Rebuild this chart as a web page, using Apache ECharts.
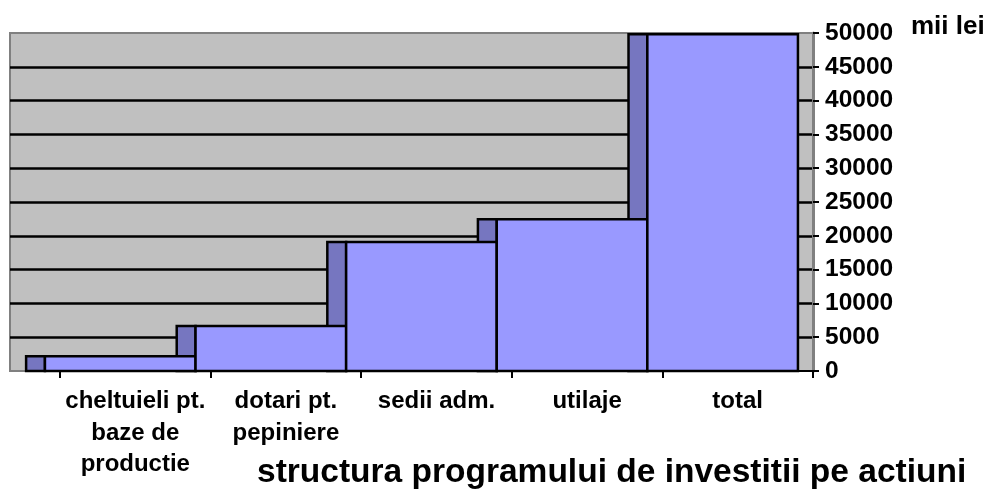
<!DOCTYPE html>
<html>
<head>
<meta charset="utf-8">
<script src="https://cdn.jsdelivr.net/npm/echarts@6/dist/echarts.min.js"></script>
<style>
html,body{margin:0;padding:0;background:#fff;}
#chart{width:993px;height:490px;}
</style>
</head>
<body>
<div id="chart"></div>
<script>
// ---- data ----
const categories = ['cheltuieli pt.\nbaze de\nproductie', 'dotari pt.\npepiniere', 'sedii adm.', 'utilaje', 'total'];
const values = [2200, 6650, 19100, 22450, 49800];
const yTicks = [0, 50000, 5000]; // min, max, interval
const titleText = 'structura programului de investitii pe actiuni';
const unitText = 'mii lei';

const seriesData = values.map((v, i) => [i, v]);
const FONT = '"Liberation Sans", Arial, sans-serif';

function barGeom(api) {
  const x = api.value(0), v = api.value(1);
  const top = api.coord([x, v]);
  const base = api.coord([x, 0]);
  const band = api.size([1, 0])[0];
  const frontLeft = top[0] - band / 2 - band * 0.1;
  return { top: top[1], base: base[1], band: band, frontLeft: frontLeft };
}

const chart = echarts.init(document.getElementById('chart'), null, { renderer: 'canvas' });
chart.setOption({
  animation: false,
  backgroundColor: '#ffffff',
  title: [
    { text: titleText, left: 257, top: 456, padding: 0,
      textStyle: { fontFamily: FONT, fontWeight: 'bold', fontSize: 33.5, color: '#000' } },
    { text: unitText, left: 911, top: 14, padding: 0,
      textStyle: { fontFamily: FONT, fontWeight: 'bold', fontSize: 26, color: '#000' } }
  ],
  grid: [
    { left: 10, right: 180, top: 33, bottom: 119, show: true, backgroundColor: '#c0c0c0', borderColor: '#808080', borderWidth: 2 },
    { left: 60, right: 180, top: 33, bottom: 119 }
  ],
  xAxis: [
    { gridIndex: 0, type: 'category', data: categories, show: false },
    { gridIndex: 1, type: 'category', data: categories, boundaryGap: true,
      axisLine: { show: true, lineStyle: { color: '#000', width: 2 } },
      axisTick: { show: true, length: 7, lineStyle: { color: '#000', width: 2 } },
      axisLabel: { interval: 0, margin: 15, fontFamily: FONT, fontWeight: 'bold', fontSize: 24, lineHeight: 31.5, color: '#000' },
      splitLine: { show: false } }
  ],
  yAxis: [
    { gridIndex: 0, type: 'value', min: yTicks[0], max: yTicks[1], interval: yTicks[2],
      axisLine: { show: false }, axisTick: { show: false }, axisLabel: { show: false },
      splitLine: { show: true, showMinLine: false, showMaxLine: false, lineStyle: { color: '#000', width: 2.5 } } },
    { gridIndex: 1, type: 'value', position: 'right', min: yTicks[0], max: yTicks[1], interval: yTicks[2],
      axisLine: { show: true, lineStyle: { color: '#808080', width: 3 } },
      axisTick: { show: true, length: 6, lineStyle: { color: '#000', width: 2 } },
      axisLabel: { margin: 12, fontFamily: FONT, fontWeight: 'bold', fontSize: 24.5, color: '#000',
        formatter: function (v) { return String(v); } },
      splitLine: { show: false } }
  ],
  series: [
    { type: 'custom', name: 'side', xAxisIndex: 1, yAxisIndex: 1, data: seriesData, z: 3,
      renderItem: function (params, api) {
        const g = barGeom(api);
        const w = g.band * 0.125;
        return { type: 'rect', shape: { x: g.frontLeft - w, y: g.top, width: w, height: g.base - g.top },
          style: { fill: '#7676c0', stroke: '#000', lineWidth: 2.5 } };
      } },
    { type: 'custom', name: 'front', xAxisIndex: 1, yAxisIndex: 1, data: seriesData, z: 4,
      renderItem: function (params, api) {
        const g = barGeom(api);
        return { type: 'rect', shape: { x: g.frontLeft, y: g.top, width: g.band, height: g.base - g.top },
          style: { fill: '#9999ff', stroke: '#000', lineWidth: 2.5 } };
      } }
  ]
});
</script>
</body>
</html>
